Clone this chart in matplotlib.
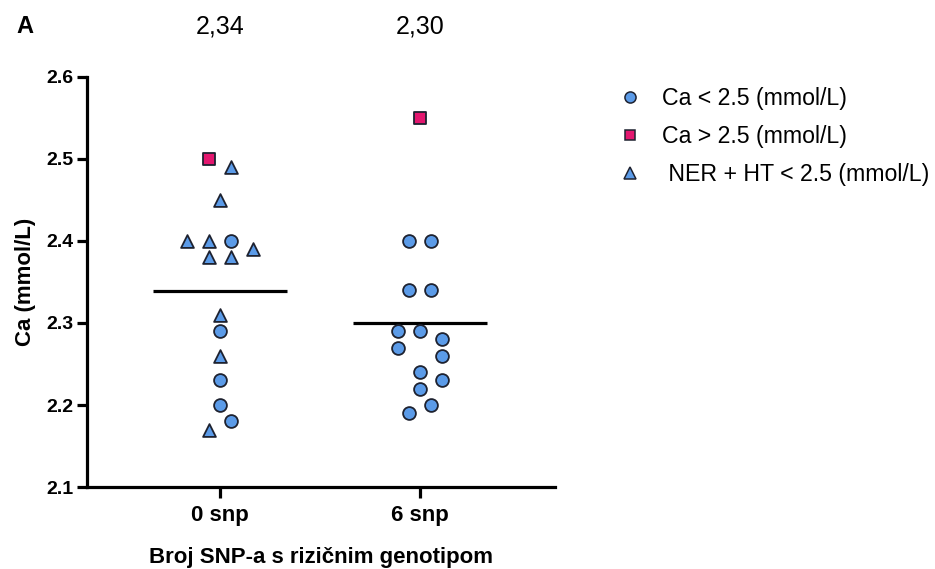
import matplotlib.pyplot as plt
import matplotlib.lines as mlines
import numpy as np

plt.rcParams['font.family'] = ['Liberation Sans', 'DejaVu Sans']

# categories and annotations
cat_labels = ['0 snp', '6 snp']
mean_labels = ['2,34', '2,30']

# group "0 snp"
g0_circle_y = [2.40, 2.29, 2.23, 2.20, 2.18]
g0_circle_dx = [0.055, 0, 0, 0, 0.055]
g0_square_y = [2.50]
g0_square_dx = [-0.055]
g0_tri_y = [2.49, 2.45, 2.40, 2.40, 2.39, 2.38, 2.38, 2.31, 2.26, 2.17]
g0_tri_dx = [0.055, 0, -0.165, -0.055, 0.165, -0.055, 0.055, 0, 0, -0.055]

# group "6 snp"
g6_circle_y = [2.40, 2.40, 2.34, 2.34, 2.29, 2.29, 2.28, 2.27, 2.26, 2.24, 2.23, 2.22, 2.20, 2.19]
g6_circle_dx = [-0.055, 0.055, -0.055, 0.055, -0.11, 0, 0.11, -0.11, 0.11, 0, 0.11, 0, 0.055, -0.055]
g6_square_y = [2.55]
g6_square_dx = [0]

blue = '#5b9be8'
pink = '#e3176f'
edge = '#1e2230'

fig = plt.figure(figsize=(9.35, 5.69), dpi=100)
ax = fig.add_axes([0.093, 0.144, 0.501, 0.721])

groups = [
    (0, g0_circle_y, g0_circle_dx, g0_square_y, g0_square_dx, g0_tri_y, g0_tri_dx),
    (1, g6_circle_y, g6_circle_dx, g6_square_y, g6_square_dx, [], []),
]
for pos, cy, cdx, sy, sdx, ty, tdx in groups:
    kw = dict(s=85, edgecolors=edge, linewidths=1.3, zorder=3)
    ax.scatter(pos + np.array(cdx), cy, marker='o', c=blue, **kw)
    ax.scatter(pos + np.array(sdx), sy, marker='s', c=pink, **dict(kw, s=75))
    if ty:
        ax.scatter(pos + np.array(tdx), ty, marker='^', c=blue, **kw)
    mean = np.mean(list(cy) + list(sy) + list(ty))
    ax.plot([pos - 0.335, pos + 0.335], [mean, mean], color='black', lw=2.3, zorder=2,
            solid_capstyle='butt')

for pos, txt in enumerate(mean_labels):
    ax.annotate(txt, xy=(pos, 0.953), xycoords=('data', 'figure fraction'),
                ha='center', va='center', fontsize=18)
fig.text(0.018, 0.953, 'A', fontsize=17, fontweight='bold', ha='left', va='center')

ax.set_xlim(-0.665, 1.675)
ax.set_ylim(2.1, 2.6)
ax.set_yticks([2.1, 2.2, 2.3, 2.4, 2.5, 2.6])
ax.set_yticklabels(['2.1', '2.2', '2.3', '2.4', '2.5', '2.6'], fontsize=14, fontweight='bold')
ax.set_xticks([0, 1])
ax.set_xticklabels(cat_labels, fontsize=16, fontweight='bold')
ax.set_ylabel('Ca (mmol/L)', fontsize=16, fontweight='bold', labelpad=8)
ax.set_xlabel('Broj SNP-a s rizičnim genotipom', fontsize=16, fontweight='bold', labelpad=15)
for s in ['top', 'right']:
    ax.spines[s].set_visible(False)
for s in ['left', 'bottom']:
    ax.spines[s].set_linewidth(2.3)
ax.tick_params(axis='y', width=2.3, length=7.5, pad=2)
ax.tick_params(axis='x', width=2.3, length=8, pad=5)

handles = [
    mlines.Line2D([], [], ls='none', marker='o', markersize=8, markerfacecolor=blue,
                  markeredgecolor=edge, markeredgewidth=1.1),
    mlines.Line2D([], [], ls='none', marker='s', markersize=7.5, markerfacecolor=pink,
                  markeredgecolor=edge, markeredgewidth=1.1),
    mlines.Line2D([], [], ls='none', marker='^', markersize=8, markerfacecolor=blue,
                  markeredgecolor=edge, markeredgewidth=1.1),
]
labels = ['Ca < 2.5 (mmol/L)', 'Ca > 2.5 (mmol/L)', ' NER + HT < 2.5 (mmol/L)']
fig.legend(handles, labels, loc='upper left', bbox_to_anchor=(619 / 935, 0.847),
           frameon=False, fontsize=16.7, handlelength=0.95, handletextpad=0.9,
           labelspacing=0.64, borderpad=0, borderaxespad=0)

fig.savefig('out.png', dpi=100)
